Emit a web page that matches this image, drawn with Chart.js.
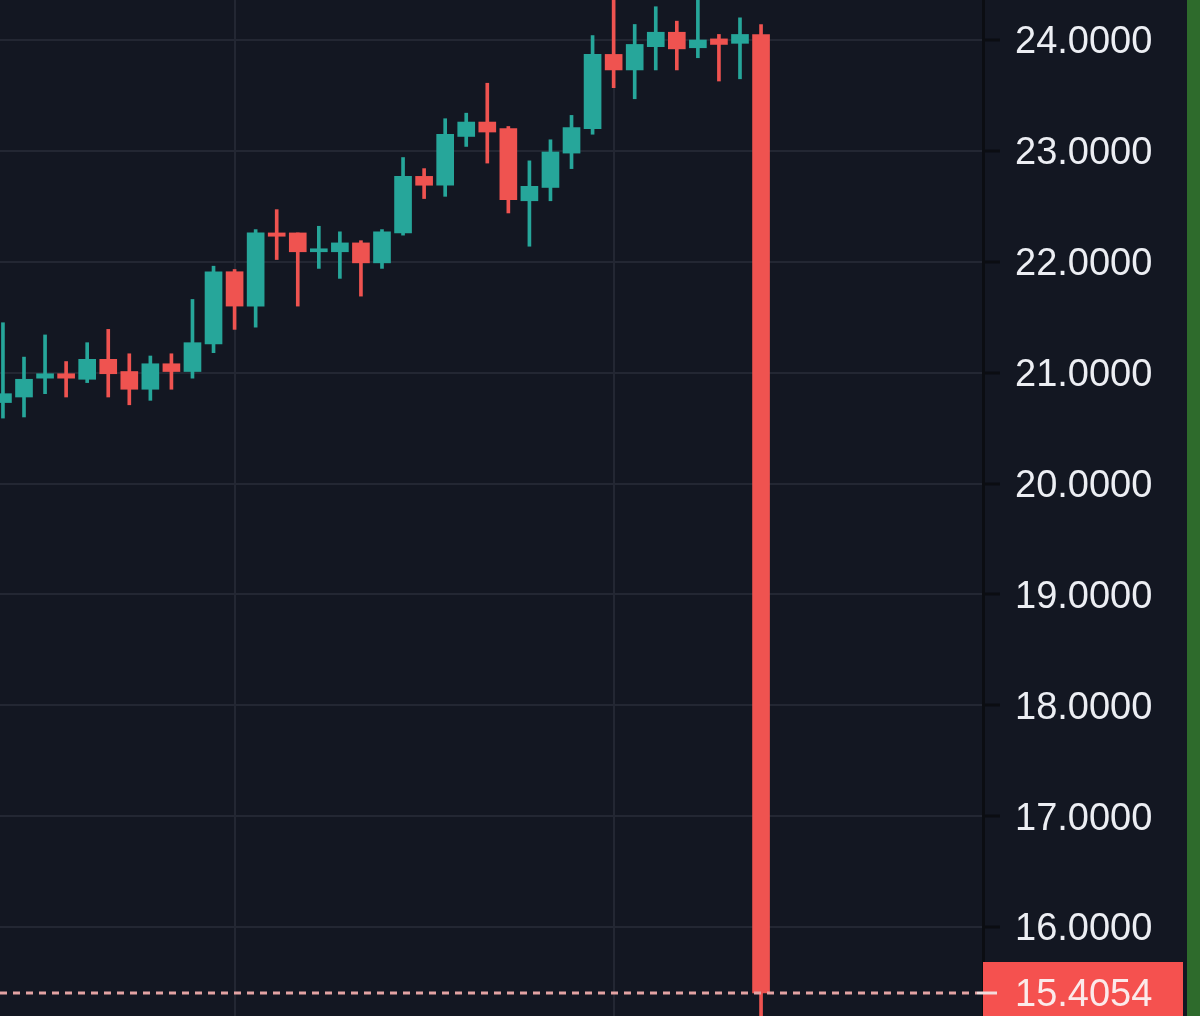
<!DOCTYPE html>
<html>
<head>
<meta charset="utf-8">
<script src="https://cdn.jsdelivr.net/npm/chart.js@4.4.0/dist/chart.umd.min.js"></script>
<style>
  html, body { margin: 0; padding: 0; background: #131722; overflow: hidden; }
  #wrap { position: relative; width: 1200px; height: 1016px; }
  #c { position: absolute; left: 0; top: 0; }
  #strip { position: absolute; left: 1187px; top: 0; width: 13px; height: 1016px; background: #2e6b2c; }
</style>
</head>
<body>
<div id="wrap">
  <canvas id="c" width="1187" height="1016"></canvas>
  <div id="strip"></div>
</div>
<script>
// ── Dữ liệu nến ─────────────────────────────────────────
const OPEN  = [20.73, 20.78, 20.95, 20.99, 20.94, 21.12, 21.01, 20.85, 21.08, 21.01,
               21.26, 21.91, 21.60, 22.26, 22.26, 22.09, 22.09, 22.17, 21.99, 22.26,
               22.77, 22.69, 23.13, 23.26, 23.20, 22.55, 22.67, 22.98, 23.20, 23.87,
               23.73, 23.94, 24.07, 23.93, 24.01, 23.97, 24.05];
const HIGH  = [21.45, 21.14, 21.34, 21.10, 21.27, 21.39, 21.17, 21.15, 21.17, 21.66,
               21.96, 21.93, 22.29, 22.47, 22.26, 22.32, 22.27, 22.19, 22.29, 22.94,
               22.84, 23.29, 23.34, 23.61, 23.22, 22.91, 23.10, 23.32, 24.04, 24.42,
               24.14, 24.30, 24.17, 24.42, 24.05, 24.20, 24.14];
const LOW   = [20.59, 20.60, 20.81, 20.78, 20.91, 20.78, 20.71, 20.75, 20.85, 20.95,
               21.18, 21.39, 21.41, 22.02, 21.60, 21.94, 21.85, 21.69, 21.94, 22.24,
               22.57, 22.59, 23.04, 22.89, 22.44, 22.14, 22.55, 22.84, 23.15, 23.57,
               23.47, 23.73, 23.73, 23.84, 23.63, 23.65, 15.15];
const CLOSE = [20.81, 20.94, 20.99, 20.95, 21.12, 20.99, 20.85, 21.08, 21.01, 21.27,
               21.91, 21.60, 22.26, 22.23, 22.09, 22.11, 22.17, 21.99, 22.27, 22.77,
               22.69, 23.15, 23.26, 23.17, 22.56, 22.68, 22.99, 23.21, 23.87, 23.73,
               23.96, 24.07, 23.92, 24.00, 23.96, 24.05, 15.4054];

const Y_TICKS  = [16, 17, 18, 19, 20, 21, 22, 23, 24];
const X_GRID   = [11, 29];          // vị trí lưới dọc (theo chỉ số nến)
const LAST     = CLOSE[CLOSE.length - 1];

const UP   = '#26a69a';
const DOWN = '#ef5350';
const FONT = "'Liberation Sans', Arial, sans-serif";

const colors = OPEN.map((o, i) => CLOSE[i] >= o ? UP : DOWN);
const bodies = OPEN.map((o, i) => ({ x: i, y: [o, CLOSE[i]] }));
const wicks  = OPEN.map((_, i) => ({ x: i, y: [LOW[i], HIGH[i]] }));

// ── Đường giá cuối + nhãn giá ───────────────────────────
const lastPricePlugin = {
    id: 'lastPrice',
    afterDatasetsDraw(chart) {
        const { ctx, chartArea, scales } = chart;
        const y = Math.round(scales.y.getPixelForValue(LAST));
        ctx.save();
        ctx.strokeStyle = '#e3a3a3';
        ctx.lineWidth = 3;
        ctx.setLineDash([7, 6]);
        ctx.beginPath();
        ctx.moveTo(chartArea.left, y);
        ctx.lineTo(chartArea.right - 6, y);
        ctx.stroke();
        ctx.restore();
    },
    afterDraw(chart) {
        const { ctx, chartArea, scales } = chart;
        const y = Math.round(scales.y.getPixelForValue(LAST));
        const x0 = chartArea.right;
        ctx.save();
        ctx.fillStyle = '#f5514f';
        ctx.fillRect(x0, y - 31, 200, 80);
        ctx.strokeStyle = '#f3dcdc';
        ctx.lineWidth = 3;
        ctx.beginPath();
        ctx.moveTo(x0 - 6, y);
        ctx.lineTo(x0 + 14, y);
        ctx.stroke();
        ctx.fillStyle = '#fbeaea';
        ctx.font = '38px ' + FONT;
        ctx.textAlign = 'left';
        ctx.textBaseline = 'middle';
        ctx.fillText(LAST.toFixed(4), x0 + 32, y + 3);
        ctx.restore();
    }
};

new Chart(document.getElementById('c'), {
    type: 'bar',
    data: {
        datasets: [
            { label: 'body', data: bodies, backgroundColor: colors,
              barThickness: 17, minBarLength: 3, grouped: false, order: 0 },
            { label: 'wick', data: wicks, backgroundColor: colors,
              barThickness: 3, grouped: false, order: 1 }
        ]
    },
    options: {
        responsive: false,
        animation: false,
        events: [],
        layout: { padding: 0 },
        plugins: { legend: { display: false }, tooltip: { enabled: false } },
        scales: {
            x: {
                type: 'linear',
                offset: false,
                min: -0.14, max: 46.54,
                afterBuildTicks: s => { s.ticks = X_GRID.map(v => ({ value: v })); },
                afterFit: s => { s.height = 0; },
                ticks: { display: false },
                grid: { color: '#232733', lineWidth: 2, drawTicks: false, offset: false },
                border: { display: false }
            },
            y: {
                position: 'right',
                min: 24 - 976 / 110.875,
                max: 24 + 40 / 110.875,
                afterBuildTicks: s => { s.ticks = Y_TICKS.map(v => ({ value: v })); },
                afterFit: s => { s.width = 204; s.paddingTop = 0; s.paddingBottom = 0; },
                ticks: {
                    color: '#eceef3', padding: 15, labelOffset: 3,
                    font: { family: FONT, size: 38 },
                    callback: v => Number(v).toFixed(4)
                },
                grid: { color: '#232733', lineWidth: 2, tickLength: 17,
                        tickColor: '#0b0d12', tickWidth: 3 },
                border: { display: true, color: '#0b0d12', width: 3 }
            }
        }
    },
    plugins: [lastPricePlugin]
});
</script>
</body>
</html>
